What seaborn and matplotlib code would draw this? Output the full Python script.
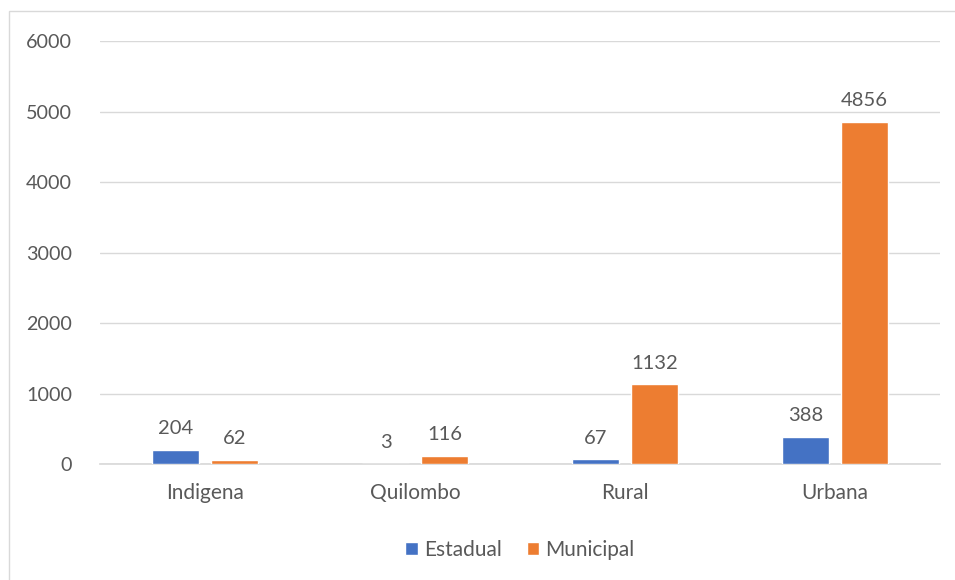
import pandas as pd
import matplotlib.pyplot as plt
import seaborn as sns
from matplotlib.patches import Rectangle

# DATA
categories = ["Indigena", "Quilombo", "Rural", "Urbana"]
estadual = [204, 3, 67, 388]
municipal = [62, 116, 1132, 4856]
series_names = ["Estadual", "Municipal"]

df = pd.DataFrame({
    "categoria": categories * 2,
    "rede": [series_names[0]] * 4 + [series_names[1]] * 4,
    "valor": estadual + municipal,
})

sns.set_theme(style="white")
plt.rcParams["font.family"] = ["Lato", "DejaVu Sans"]
TEXT = "#595959"

fig = plt.figure(figsize=(9.55, 5.8), dpi=100)
ax = fig.add_axes([0.1047, 0.2, 0.8796, 0.729])

# outer frame like the spreadsheet chart border
fig.patches.append(Rectangle((9 / 955, -0.01), 1.0, 1 - 11 / 580 + 0.01,
                             transform=fig.transFigure, fill=False,
                             edgecolor="#D9D9D9", linewidth=1.0))

sns.barplot(data=df, x="categoria", y="valor", hue="rede",
            palette=["#4472C4", "#ED7D31"], width=0.56, gap=0.2,
            ax=ax, zorder=3, saturation=1)

ax.set_ylim(0, 6000)
ax.set_xlim(-0.5, 3.5)
ax.set_yticks(range(0, 6001, 1000))
ax.yaxis.grid(True, color="#D9D9D9", linewidth=1.0, zorder=0)
for s in ["top", "right", "left"]:
    ax.spines[s].set_visible(False)
ax.spines["bottom"].set_color("#D9D9D9")
ax.tick_params(axis="both", length=0, labelcolor=TEXT)
ax.tick_params(axis="y", pad=20, labelsize=14.2)
ax.tick_params(axis="x", pad=14, labelsize=15)
ax.set_xlabel("")
ax.set_ylabel("")

for cont in ax.containers:
    ax.bar_label(cont, padding=9, fontsize=14.5, color=TEXT)

leg = ax.legend(loc="upper center", bbox_to_anchor=(0.5, -0.135), ncol=2,
                frameon=False, fontsize=15, handlelength=0.6,
                handleheight=0.6, handletextpad=0.3, columnspacing=1.2)
for t in leg.get_texts():
    t.set_color(TEXT)

fig.savefig("out.png", dpi=100)
